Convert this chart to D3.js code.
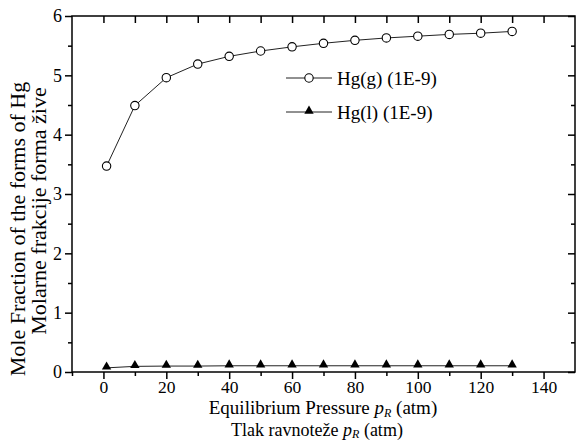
<!DOCTYPE html>
<html>
<head>
<meta charset="utf-8">
<script src="https://cdn.jsdelivr.net/npm/d3@7"></script>
<style>
  html, body { margin: 0; padding: 0; background: #fff; }
  svg { display: block; font-family: "Liberation Serif", "Times New Roman", serif; }
  svg text { font-family: "Liberation Serif", "Times New Roman", serif; }
</style>
</head>
<body>
<svg id="chart" width="576" height="440"></svg>
<script>
// Equilibrium pressure (atm)
const pressure = [1, 10, 20, 30, 40, 50, 60, 70, 80, 90, 100, 110, 120, 130];
// Mole fractions (×1E-9)
const hgGas    = [3.47, 4.49, 4.96, 5.19, 5.32, 5.41, 5.48, 5.54, 5.59, 5.63, 5.66, 5.69, 5.71, 5.74];
const hgLiquid = [0.07, 0.095, 0.10, 0.10, 0.105, 0.105, 0.105, 0.105, 0.105, 0.105, 0.105, 0.105, 0.105, 0.105];
const seriesNames = ["Hg(g) (1E-9)", "Hg(l) (1E-9)"];
const xTickValues = [0, 20, 40, 60, 80, 100, 120, 140];
const yTickValues = [0, 1, 2, 3, 4, 5, 6];

const svg = d3.select("#chart");
const plotL = 72, plotR = 575, plotT = 16, plotB = 372;

const x = d3.scaleLinear().domain([-10, 150]).range([plotL, plotR]);
const y = d3.scaleLinear().domain([0, 6]).range([plotB, plotT]);

const ink = "#000";
const serif = "Liberation Serif";

// Frame
svg.append("rect")
  .attr("x", plotL).attr("y", plotT)
  .attr("width", plotR - plotL).attr("height", plotB - plotT)
  .attr("fill", "none").attr("stroke", ink).attr("stroke-width", 1.5);

function styleTicks(g) {
  g.attr("font-family", serif);
  g.select(".domain").remove();
  g.selectAll("line").attr("stroke", ink).attr("stroke-width", 1.5);
  return g;
}

// Bottom axis: major ticks with labels, minor ticks between, both outward
const gx = styleTicks(svg.append("g").attr("transform", `translate(0,${plotB})`)
  .call(d3.axisBottom(x).tickValues(xTickValues).tickSize(7).tickPadding(2).tickFormat(d3.format("d"))));
gx.selectAll("text").attr("font-size", 17.5).attr("fill", ink);
styleTicks(svg.append("g").attr("transform", `translate(0,${plotB})`)
  .call(d3.axisBottom(x).tickValues(d3.range(-10, 150, 20)).tickSize(4).tickFormat("")));

// Left axis: major ticks with labels, minor ticks at halves, outward
const gy = styleTicks(svg.append("g").attr("transform", `translate(${plotL},0)`)
  .call(d3.axisLeft(y).tickValues(yTickValues).tickSize(7).tickPadding(3).tickFormat(d3.format("d"))));
gy.selectAll("text").attr("font-size", 18).attr("fill", ink);
styleTicks(svg.append("g").attr("transform", `translate(${plotL},0)`)
  .call(d3.axisLeft(y).tickValues(d3.range(0.5, 6, 1)).tickSize(4).tickFormat("")));

// Top axis: inward ticks every 10
styleTicks(svg.append("g").attr("transform", `translate(0,${plotT})`)
  .call(d3.axisBottom(x).tickValues(d3.range(0, 150, 10)).tickSize(7).tickFormat("")));

// Right axis: inward ticks
styleTicks(svg.append("g").attr("transform", `translate(${plotR},0)`)
  .call(d3.axisLeft(y).tickValues(yTickValues).tickSize(7).tickFormat("")));
styleTicks(svg.append("g").attr("transform", `translate(${plotR},0)`)
  .call(d3.axisLeft(y).tickValues(d3.range(0.5, 6, 1)).tickSize(4).tickFormat("")));

// Series
const line = d3.line().x(d => x(d[0])).y(d => y(d[1]));
const gasPts = pressure.map((p, i) => [p, hgGas[i]]);
const liqPts = pressure.map((p, i) => [p, hgLiquid[i]]);

svg.append("path").datum(gasPts).attr("d", line)
  .attr("fill", "none").attr("stroke", "#222").attr("stroke-width", 1);
svg.append("path").datum(liqPts).attr("d", line)
  .attr("fill", "none").attr("stroke", "#222").attr("stroke-width", 1);

const circleR = 4.2;
const tri = d3.symbol().type(d3.symbolTriangle).size(38);

svg.append("g").selectAll("circle").data(gasPts).join("circle")
  .attr("cx", d => x(d[0])).attr("cy", d => y(d[1])).attr("r", circleR)
  .attr("fill", "#fff").attr("stroke", ink).attr("stroke-width", 1.1);

svg.append("g").selectAll("path").data(liqPts).join("path")
  .attr("d", tri)
  .attr("transform", d => `translate(${x(d[0])},${y(d[1]) - 1})`)
  .attr("fill", ink);

// Legend
const legend = svg.append("g");
const legRows = [78, 112];
legRows.forEach((ly, i) => {
  legend.append("line").attr("x1", 286).attr("x2", 332).attr("y1", ly).attr("y2", ly)
    .attr("stroke", "#222").attr("stroke-width", 1);
  if (i === 0) {
    legend.append("circle").attr("cx", 309).attr("cy", ly).attr("r", circleR)
      .attr("fill", "#fff").attr("stroke", ink).attr("stroke-width", 1.1);
  } else {
    legend.append("path").attr("d", tri).attr("transform", `translate(309,${ly - 1})`).attr("fill", ink);
  }
  legend.append("text").attr("x", 337).attr("y", ly + 7)
    .attr("font-size", 19).attr("fill", ink).text(seriesNames[i]);
});

// X axis titles
const xt1 = svg.append("text").attr("x", 323).attr("y", 414).attr("text-anchor", "middle")
  .attr("font-size", 19).attr("fill", ink);
xt1.append("tspan").text("Equilibrium Pressure ");
xt1.append("tspan").attr("font-style", "italic").text("p");
xt1.append("tspan").attr("font-style", "italic").attr("font-size", 12).attr("dy", 3).text("R");
xt1.append("tspan").attr("dy", -3).text(" (atm)");

const xt2 = svg.append("text").attr("x", 317).attr("y", 435.5).attr("text-anchor", "middle")
  .attr("font-size", 18).attr("fill", ink);
xt2.append("tspan").text("Tlak ravnoteže ");
xt2.append("tspan").attr("font-style", "italic").text("p");
xt2.append("tspan").attr("font-style", "italic").attr("font-size", 12).attr("dy", 2.5).text("R");
xt2.append("tspan").attr("dy", -2.5).text("  (atm)");

// Y axis titles
svg.append("text").attr("transform", "translate(25,229) rotate(-90)")
  .attr("text-anchor", "middle").attr("font-size", 22).attr("fill", ink)
  .text("Mole Fraction of the forms of Hg");
svg.append("text").attr("transform", "translate(46,211) rotate(-90)")
  .attr("text-anchor", "middle").attr("font-size", 22).attr("fill", ink)
  .text("Molarne frakcije forma žive");
</script>
</body>
</html>
